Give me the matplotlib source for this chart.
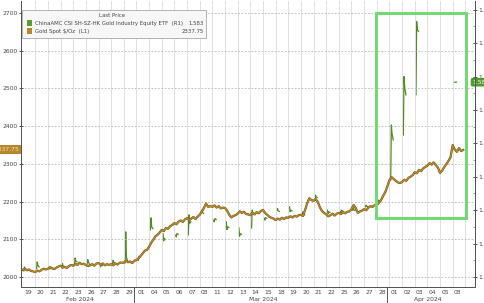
import numpy as np
import matplotlib.pyplot as plt
import matplotlib.transforms as mtransforms
import matplotlib.patheffects as pe
from matplotlib.patches import Rectangle
from matplotlib.ticker import MultipleLocator

# trading days shown on the x axis
dates = ['2024-02-19', '2024-02-20', '2024-02-21', '2024-02-22', '2024-02-23',
         '2024-02-26', '2024-02-27', '2024-02-28', '2024-02-29',
         '2024-03-01', '2024-03-04', '2024-03-05', '2024-03-06', '2024-03-07',
         '2024-03-08', '2024-03-11', '2024-03-12', '2024-03-13', '2024-03-14',
         '2024-03-15', '2024-03-18', '2024-03-19', '2024-03-20', '2024-03-21',
         '2024-03-22', '2024-03-25', '2024-03-26', '2024-03-27', '2024-03-28',
         '2024-04-01', '2024-04-02', '2024-04-03', '2024-04-04', '2024-04-05',
         '2024-04-08']

# gold spot $/oz, six readings per day (left axis)
gold = [
    [2019, 2022, 2018, 2020, 2016, 2015], [2013, 2017, 2015, 2019, 2022, 2020],
    [2022, 2026, 2023, 2021, 2025, 2028], [2030, 2025, 2027, 2024, 2029, 2032],
    [2030, 2035, 2032, 2038, 2034, 2035], [2032, 2029, 2031, 2034, 2030, 2036],
    [2037, 2033, 2036, 2031, 2034, 2032], [2034, 2031, 2036, 2033, 2038, 2038],
    [2038, 2044, 2039, 2041, 2037, 2043], [2045, 2050, 2056, 2063, 2070, 2072],
    [2080, 2091, 2099, 2108, 2112, 2118], [2125, 2122, 2130, 2128, 2135, 2138],
    [2143, 2140, 2147, 2150, 2146, 2153], [2156, 2151, 2155, 2159, 2154, 2160],
    [2165, 2174, 2183, 2195, 2186, 2188], [2186, 2190, 2184, 2188, 2182, 2184],
    [2183, 2176, 2165, 2158, 2162, 2164], [2168, 2174, 2170, 2173, 2167, 2166],
    [2164, 2170, 2166, 2172, 2169, 2175], [2178, 2170, 2165, 2160, 2157, 2155],
    [2151, 2155, 2152, 2157, 2154, 2158], [2157, 2161, 2158, 2162, 2160, 2164],
    [2165, 2162, 2178, 2196, 2209, 2204], [2202, 2207, 2199, 2185, 2175, 2170],
    [2166, 2161, 2164, 2168, 2163, 2168], [2170, 2167, 2172, 2169, 2173, 2174],
    [2180, 2191, 2183, 2170, 2174, 2176], [2180, 2177, 2184, 2188, 2186, 2191],
    [2191, 2197, 2204, 2215, 2225, 2240], [2257, 2265, 2260, 2255, 2251, 2249],
    [2252, 2258, 2255, 2263, 2266, 2270], [2278, 2275, 2284, 2281, 2288, 2292],
    [2295, 2302, 2298, 2304, 2297, 2290], [2276, 2282, 2292, 2299, 2308, 2318],
    [2350, 2338, 2332, 2342, 2334, 2337],
]

# ChinaAMC gold equity ETF, short session each day (right axis), None = closed
etf = [
    [1.018, 1.030, 1.024, 1.022], [1.025, 1.045, 1.036, 1.030], [1.030, 1.024, 1.029, 1.028],
    [1.026, 1.040, 1.033, 1.030], [1.034, 1.057, 1.048, 1.045], [1.040, 1.052, 1.044, 1.038],
    [1.035, 1.030, 1.036, 1.034], [1.036, 1.050, 1.045, 1.040], [1.042, 1.135, 1.060, 1.048],
    [1.055, 1.050, 1.062, 1.060], [1.141, 1.177, 1.150, 1.145], [1.130, 1.108, 1.115, 1.112],
    [1.125, 1.120, 1.130, 1.128], [1.126, 1.186, 1.160, 1.165], [1.190, 1.200, 1.195, 1.190],
    [1.170, 1.165, 1.175, 1.172], [1.165, 1.142, 1.150, 1.148], [1.147, 1.122, 1.130, 1.128],
    [1.147, 1.200, 1.190, 1.190], [1.175, 1.170, 1.178, 1.176], [1.200, 1.205, 1.198, 1.196],
    [1.210, 1.195, 1.200, 1.198], [1.190, 1.195, 1.188, 1.186], [1.230, 1.245, 1.240, 1.238],
    [1.200, 1.190, 1.195, 1.193], [1.195, 1.190, 1.200, 1.198], [1.200, 1.205, 1.200, 1.200],
    [1.210, 1.215, 1.212, 1.210], [1.225, 1.230, 1.228, 1.226], [1.290, 1.455, 1.430, 1.410],
    [1.425, 1.600, 1.570, 1.545], [1.545, 1.765, 1.740, 1.735], None, None,
    [1.583, 1.583, 1.583, 1.583],
]

gold_last = 2337.75
etf_last = 1.583
gold_name = 'Gold Spot $/Oz  (L1)'
etf_name = 'ChinaAMC CSI SH-SZ-HK Gold Industry Equity ETF  (R1)'

gold_col = '#bb8c2e'
etf_col = '#4f8a22'
txt_col = '#444444'
fs = 4.3
lfs = 3.85

d = np.array(dates, dtype='datetime64[D]')
n = len(d)

# gold runs through the whole day, the ETF only in the asian session
gx = np.concatenate([i + np.arange(6) / 6 for i in range(n)])
gy = np.concatenate(gold)
ex, ey = [], []
for i, day in enumerate(etf):
    if day is None:
        continue
    ex += list(i + np.array([0.10, 0.15, 0.20, 0.30])) + [np.nan]
    ey += day + [np.nan]

fig = plt.figure(figsize=(4.85, 3.03), dpi=100)
ax = fig.add_axes([0.0433, 0.0528, 0.9357, 0.9439])
ax2 = ax.twinx()

ax.set_xlim(-0.13, 35.75)
ax.set_ylim(1973.5, 2732)
ax2.set_ylim(0.970, 1.826)

# day grid
for i in range(1, n + 1):
    ax.axvline(i, color='#dcdcdc', lw=0.6, zorder=0)
ax.yaxis.set_major_locator(MultipleLocator(100))
ax.grid(axis='y', color='#b5b5b5', lw=0.6, linestyle=(0, (2, 2)))
ax.set_axisbelow(True)

ax2.plot(ex, ey, color=etf_col, lw=0.9, zorder=2)
ax.set_zorder(ax2.get_zorder() + 1)
ax.patch.set_visible(False)
ax.plot(gx, gy, color=gold_col, lw=0.9, zorder=3,
        path_effects=[pe.Stroke(linewidth=1.6, foreground='#6b5518'), pe.Normal()])

# ticks
ax.set_xticks([])
ax.tick_params(axis='y', direction='inout', length=3, width=0.6, colors='#333333',
               labelsize=fs, pad=1, labelcolor=txt_col)
ax.yaxis.set_major_formatter(plt.FuncFormatter(lambda v, p: '%d' % v))
ax2.yaxis.set_major_locator(MultipleLocator(0.1))
ax2.yaxis.set_minor_locator(MultipleLocator(0.05))
ax2.yaxis.set_major_formatter(plt.FuncFormatter(lambda v, p: '%.1f' % v))
ax2.tick_params(axis='y', which='major', direction='inout', length=3, width=0.6,
                colors='#333333', labelsize=fs, pad=1, labelcolor=txt_col)
ax2.tick_params(axis='y', which='minor', direction='in', length=1.5, width=0.5, colors='#777777')
for a in (ax, ax2):
    a.spines['top'].set_visible(False)
    for s in ('left', 'right', 'bottom'):
        a.spines[s].set_color('#555555')
        a.spines[s].set_linewidth(0.7)

# day and month labels under the axis
trans = mtransforms.blended_transform_factory(ax.transData, ax.transAxes)
months = d.astype('datetime64[M]')
for i in range(n):
    ax.text(i + 0.1, -0.012, d[i].astype(object).strftime('%d'), transform=trans,
            ha='left', va='top', fontsize=fs, color=txt_col)
for m in np.unique(months):
    idx = np.where(months == m)[0]
    ax.text((idx[0] + idx[-1] + 1) / 2, -0.035, m.astype(object).strftime('%b %Y'),
            transform=trans, ha='center', va='top', fontsize=fs, color=txt_col)
    if idx[0] > 0:
        ax.plot([idx[0] - 0.2] * 2, [0, -0.06], transform=trans, color='#555555',
                lw=0.7, clip_on=False)

# highlight box
ax.add_patch(Rectangle((27.95, 2156), 7.1, 544, fill=False, ec='#74d874', lw=2.2, zorder=6))

# last value tags
ytr = mtransforms.blended_transform_factory(ax.transAxes, ax.transData)
ax.text(-0.004, gold_last, '%.2f' % gold_last, transform=ytr, ha='right', va='center',
        fontsize=fs, color='#f3e3bb', zorder=7, clip_on=False,
        bbox=dict(boxstyle='square,pad=0.3', fc='#b8862b', ec='none'))
ytr2 = mtransforms.blended_transform_factory(ax2.transAxes, ax2.transData)
ax2.text(0.995, etf_last, '%.3f' % etf_last, transform=ytr2, ha='left', va='center',
         fontsize=fs, color='white', zorder=7, clip_on=False,
         bbox=dict(boxstyle='round,pad=0.3', fc='#4f9a2a', ec='none'))

# legend box
ax.add_patch(Rectangle((0.003, 0.871), 0.405, 0.098, transform=ax.transAxes,
                       fc='#f7f7f7', ec='#a8a8a8', lw=0.6, zorder=8))
ax.text(0.2, 0.948, 'Last Price', transform=ax.transAxes, ha='center', va='center',
        fontsize=lfs, color=txt_col, zorder=9)
for yy, col, name, val in [(0.923, '#5a9e2c', etf_name, '%.3f' % etf_last),
                           (0.895, '#b8862b', gold_name, '%.2f' % gold_last)]:
    ax.add_patch(Rectangle((0.014, yy - 0.011), 0.011, 0.022, transform=ax.transAxes,
                           fc=col, ec='none', zorder=9))
    ax.text(0.030, yy, name, transform=ax.transAxes, ha='left', va='center',
            fontsize=lfs, color=txt_col, zorder=9)
    ax.text(0.403, yy, val, transform=ax.transAxes, ha='right', va='center',
            fontsize=lfs, color=txt_col, zorder=9)

fig.savefig('out.png', dpi=100)
